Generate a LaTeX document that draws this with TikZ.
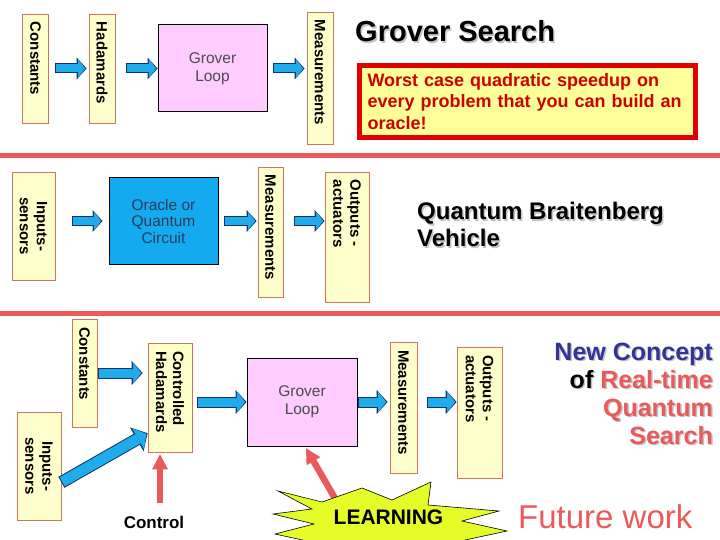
\documentclass[tikz,border=0pt]{standalone}
\usepackage{fontspec}
\setmainfont{Liberation Sans}
\usepackage{graphicx}
\usetikzlibrary{arrows.meta,calc}

\definecolor{boxyellow}{RGB}{255,255,204}
\definecolor{boxedge}{RGB}{205,115,95}
\definecolor{looppink}{RGB}{255,204,255}
\definecolor{oracleblue}{RGB}{20,170,240}
\definecolor{oracletext}{RGB}{40,60,90}
\definecolor{arrowfill}{RGB}{30,172,235}
\definecolor{arrowedge}{RGB}{20,50,110}
\definecolor{sepred}{RGB}{238,90,90}
\definecolor{warnred}{RGB}{225,0,0}
\definecolor{warnfill}{RGB}{255,255,153}
\definecolor{warntext}{RGB}{205,0,0}
\definecolor{navy}{RGB}{51,51,153}
\definecolor{coral}{RGB}{235,90,90}
\definecolor{burst}{RGB}{228,252,40}
\definecolor{shadowgray}{RGB}{195,195,195}

% vertical label: length of the line box, then the text
\newcommand\vtext[2]{\rotatebox{-90}{\parbox{#1pt}{\raggedright #2}}}
% text with a soft grey shadow
\newcommand\shad[1]{\rlap{\kern1.5pt\raisebox{-1.5pt}{\color{shadowgray}\def\textcolor##1##2{##2}#1}}#1}
% fat blue arrow: [size] start gap, end gap, from, to
\newcommand\blockarrow[5][1]{%
  \pgfmathsetmacro\bw{#1*10}\pgfmathsetmacro\bwi{#1*10-2}%
  \pgfmathsetmacro\bh{#1*22}\pgfmathsetmacro\bhi{#1*22-3.6}%
  \pgfmathsetmacro\bl{#1*10}\pgfmathsetmacro\bli{#1*10-2.8}%
  \pgfmathsetmacro\ga{#2+1}\pgfmathsetmacro\gb{#3+1.4}%
  \draw[arrowedge, line width=\bw pt, -{Triangle[length=\bl pt,width=\bh pt,line width=0pt]},
    shorten <=#2pt, shorten >=#3pt] #4 -- #5;
  \draw[arrowfill, line width=\bwi pt, -{Triangle[length=\bli pt,width=\bhi pt,line width=0pt]},
    shorten <=\ga pt, shorten >=\gb pt] #4 -- #5;}

\begin{document}
\begin{tikzpicture}[x=1pt,y=-1pt,
  vbox/.style 2 args={draw=boxedge, fill=boxyellow, line width=0.8pt, inner sep=0pt,
    minimum width=#1, minimum height=#2, font=\bfseries\fontsize{15}{17}\selectfont},
  loopbox/.style={draw, line width=1pt, fill=looppink, inner sep=0pt, minimum width=109,
    minimum height=87, align=center, text=black!70, font=\fontsize{15.5}{18}\selectfont},
  redarr/.style={draw=coral, line width=6.5pt, -{Triangle[length=15pt,width=16pt,line width=0pt]}},
  sepline/.style={draw=sepred, line width=5pt}]
\useasboundingbox (0,0) rectangle (720,540);
\clip (0,0) rectangle (720,540);

% Grover search
\node[vbox={26}{109}] (cons1) at (35.5,68.5) {\vtext{93}{Constants}};
\node[vbox={26}{109}] (had1) at (102,68.5) {\vtext{93}{Hadamards}};
\node[loopbox] (grov1) at (212.5,68.5) {Grover\\Loop};
\node[vbox={26}{132}] (meas1) at (320,78) {\vtext{116}{Measurements}};
\blockarrow{6.5}{2}{(cons1.east)}{(had1.west)}
\blockarrow{11}{0}{(had1.east)}{(grov1.west)}
\blockarrow{5}{2}{(grov1.east)}{(meas1.west |- grov1.east)}
\node[anchor=base west, inner sep=0pt, font=\bfseries\fontsize{29}{29}\selectfont] (title) at (355,42) {\shad{Grover Search}};
\node[draw=warnred, line width=5pt, fill=warnfill, minimum width=336, minimum height=72,
  text width=320, align=left, inner sep=0pt, text=warntext,
  font=\bfseries\fontsize{18}{21.5}\selectfont] (worst) at (527.5,101.5)
  {Worst case quadratic speedup on\\every problem that you can build an\\oracle!};
\draw[sepline] (0,155.5) -- (720,155.5);

% Braitenberg vehicle
\node[vbox={43}{108}] (in1) at (33.5,226) {\vtext{92}{\centering Inputs-\\sensors}};
\node[draw, line width=1pt, fill=oracleblue, inner sep=0pt, minimum width=109, minimum height=86,
  align=center, text=oracletext, font=\fontsize{15.5}{16.5}\selectfont] (orc) at (163.5,221)
  {Oracle or\\Quantum\\Circuit};
\node[vbox={25}{130}] (meas2) at (270.5,232) {\vtext{114}{Measurements}};
\node[vbox={44}{130}] (out1) at (347,237) {\vtext{114}{Outputs -\\actuators}};
\blockarrow{17}{6}{(in1.east |- orc.west)}{(orc.west)}
\blockarrow{5}{1}{(orc.east)}{(meas2.west |- orc.east)}
\blockarrow{11}{0}{(meas2.east |- orc.east)}{(out1.west |- orc.east)}
\node[anchor=base west, inner sep=0pt, align=left, font=\bfseries\fontsize{24}{27}\selectfont] (qbv) at (417,247)
  {\shad{Quantum Braitenberg}\\\shad{Vehicle}};
\draw[sepline] (0,313.5) -- (720,313.5);

% real-time quantum search
\node[vbox={25}{108}] (cons2) at (84.5,373) {\vtext{92}{Constants}};
\node[vbox={44}{108}] (in2) at (39,466) {\vtext{92}{\centering Inputs-\\sensors}};
\node[vbox={44}{109}] (ch) at (170,397.5) {\vtext{93}{Controlled\\Hadamards}};
\node[loopbox, minimum width=110, minimum height=88] (grov2) at (302,402) {Grover\\Loop};
\node[vbox={27}{131}] (meas3) at (403.5,407.5) {\vtext{115}{Measurements}};
\node[vbox={45}{131}] (out3) at (479.5,412.5) {\vtext{115}{Outputs -\\actuators}};
\blockarrow[1.1]{1}{5}{(cons2.east)}{(ch.west |- cons2.east)}
\blockarrow[1.25]{0}{0}{($(in2.east)!0.3!(in2.south east)$)}{($(ch.west)!0.65!(ch.south west)$)}
\blockarrow[1.1]{5}{0}{(ch.east |- grov2.west)}{(grov2.west)}
\blockarrow[1.1]{0}{2}{(grov2.east)}{(meas3.west |- grov2.east)}
\blockarrow[1.1]{10}{0}{(meas3.east |- grov2.east)}{(out3.west |- grov2.east)}
\node[font=\bfseries\fontsize{17}{17}\selectfont] (ctl) at (154,522.5) {Control};
\coordinate (ctlarm) at (160,503);
\draw[redarr, shorten >=2pt] (ctlarm) -- (ctlarm |- ch.south);
\coordinate (lrnarm) at (340,507);
\draw[redarr, shorten >=2pt] (lrnarm) -- ([xshift=3pt]grov2.south);
\draw[fill=burst, line width=0.6pt] (278,491) -- (322,502) -- (362,488) -- (392,500) -- (431,482)
  -- (428,505) -- (499,511) -- (462,521) -- (507,531) -- (465,540) -- (485,565) -- (425,552)
  -- (395,575) -- (360,552) -- (320,568) -- (325,545) -- (275,534) -- (314,524) -- (273,514)
  -- (312,509) -- cycle;
\node[font=\bfseries\fontsize{21}{21}\selectfont] (learn) at (388.5,517.5) {LEARNING};
\node[anchor=base east, inner sep=0pt, align=right, text=coral, font=\bfseries\fontsize{25}{28}\selectfont] (newc) at (713,444)
  {\shad{\textcolor{navy}{New Concept}}\\\shad{\textcolor{black}{of} Real-time}\\\shad{Quantum}\\\shad{Search}};
\node[anchor=base west, inner sep=0pt, text=coral, font=\fontsize{33}{33}\selectfont] (future) at (518,528) {Future work};
\end{tikzpicture}
\end{document}
